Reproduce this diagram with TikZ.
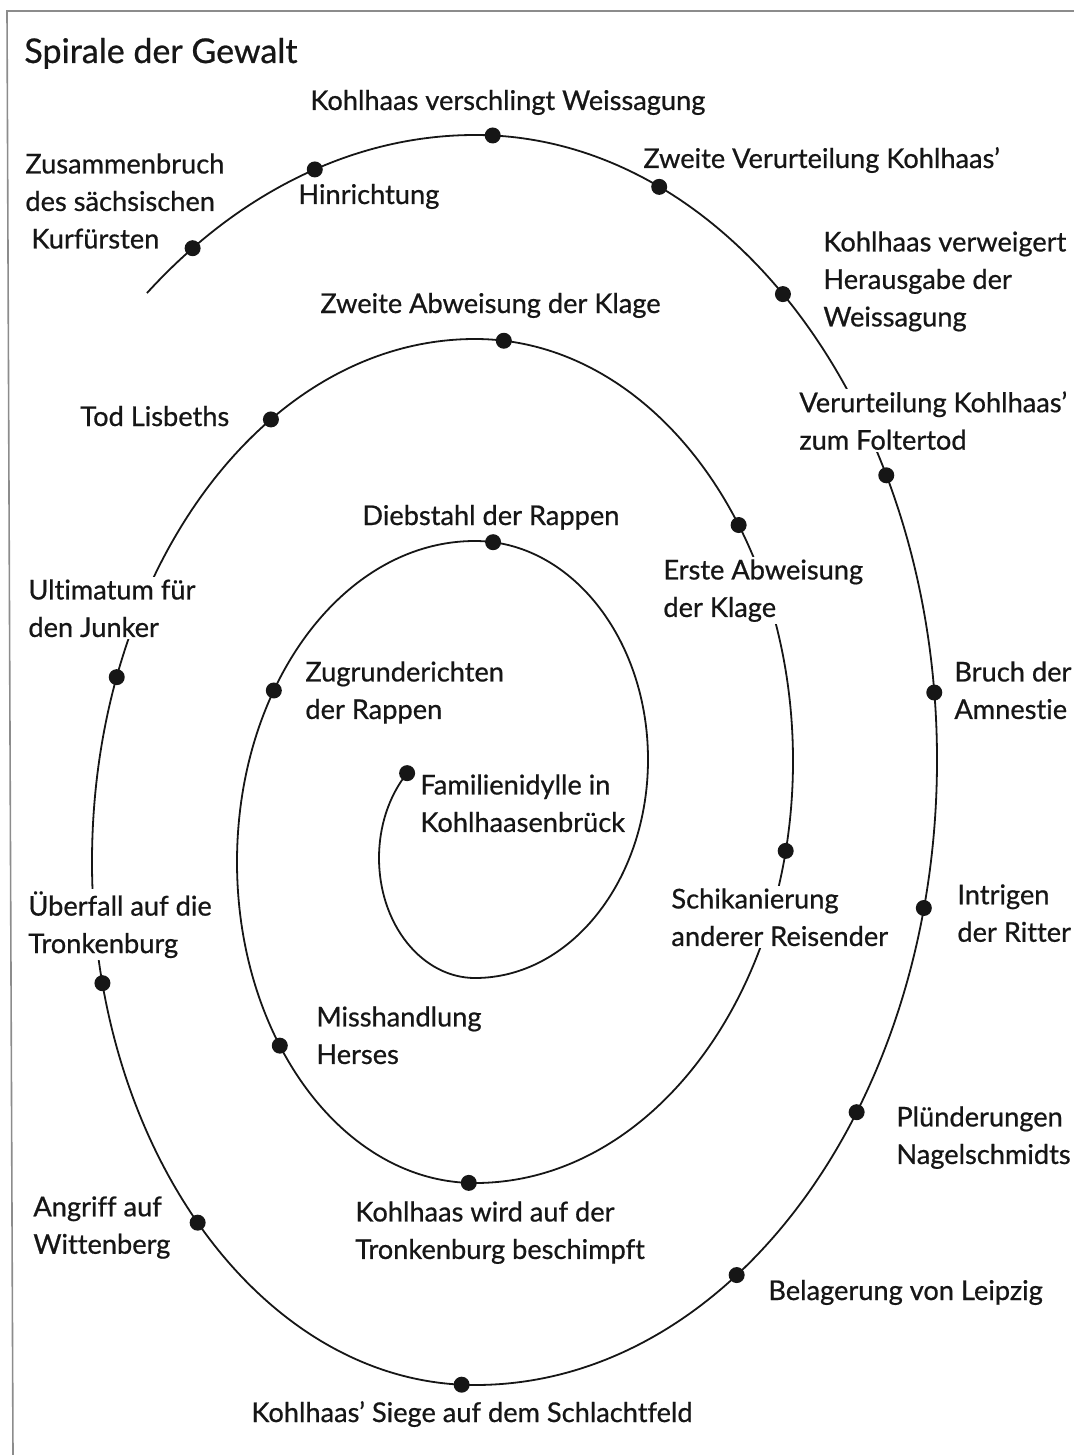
\documentclass[tikz,border=0pt]{standalone}
\usepackage{fontspec}
\setmainfont{Lato}[Ligatures={NoCommon},RawFeature={embolden=0.7}]
\usepackage{tikz}
\definecolor{Ink}{HTML}{161616}
\definecolor{Frame}{HTML}{8C8C8C}

\begin{document}
\begin{tikzpicture}[x=0.5pt,y=-0.5pt,
  every node/.style={align=left,inner sep=1pt,text=Ink,font=\fontsize{13.6}{18.75}\selectfont},
  lbl/.style={anchor=north west},
  one/.style={anchor=base west},
  gap/.style={fill=white},
  dot/.style={circle,fill=Ink,inner sep=0pt,minimum size=8pt}]
  \useasboundingbox (0,0) rectangle (1074,1455);
  % frame (top and left edge only)
  \coordinate (tl) at (7,11); \coordinate (tr) at (1074,11); \coordinate (bl) at (13,1455);
  \draw[Frame,line width=0.8pt] (tr) -- (tl) -- (bl);
  % centres of the half turns
  \coordinate (c1) at (475,858); \coordinate (c2) at (475,759.5); \coordinate (c3) at (475,862);
  \coordinate (c4) at (475,761); \coordinate (c5) at (475,862); \coordinate (c6) at (475,760);
  \coordinate (c7) at (475,862);
  % events on the spiral, from the centre outwards
  \path (c1) ++(225:96 and 120) coordinate (famil);
  \path (c2) ++(-84:173 and 218.5) coordinate (dieb);
  \path (c3) ++(212.3:238 and 321) coordinate (zug);
  \path (c3) ++(145.1:238 and 321) coordinate (miss);
  \path (c3) ++(91.5:238 and 321) coordinate (besch);
  \path (c4) ++(12.3:318 and 422) coordinate (schik);
  \path (c4) ++(-34:318 and 422) coordinate (erste);
  \path (c4) ++(-84.8:318 and 422) coordinate (zabw);
  \path (c5) ++(237.8:383 and 523) coordinate (tod);
  \path (c5) ++(200.7:383 and 523) coordinate (ult);
  \path (c5) ++(166.6:383 and 523) coordinate (ueber);
  \path (c5) ++(136.4:383 and 523) coordinate (angr);
  \path (c5) ++(92:383 and 523) coordinate (siege);
  \path (c6) ++(55.5:462 and 625) coordinate (bel);
  \path (c6) ++(34.3:462 and 625) coordinate (plue);
  \path (c6) ++(13.7:462 and 625) coordinate (intr);
  \path (c6) ++(-6.2:462 and 625) coordinate (bruch);
  \path (c6) ++(-27.1:462 and 625) coordinate (folt);
  \path (c6) ++(-48.2:462 and 625) coordinate (verw);
  \path (c6) ++(-66.5:462 and 625) coordinate (zver);
  \path (c6) ++(-87.8:462 and 625) coordinate (versch);
  \path (c7) ++(252.3:527 and 727) coordinate (hinr);
  \path (c7) ++(237.6:527 and 727) coordinate (zus);
  % the spiral, one half turn per arc
  \draw[Ink,line width=0.9pt] (famil)
    arc[start angle=225,end angle=90,x radius=96,y radius=120]
    arc[start angle=90,end angle=-90,x radius=173,y radius=218.5]
    arc[start angle=270,end angle=90,x radius=238,y radius=321]
    arc[start angle=90,end angle=-90,x radius=318,y radius=422]
    arc[start angle=270,end angle=90,x radius=383,y radius=523]
    arc[start angle=90,end angle=-90,x radius=462,y radius=625]
    arc[start angle=270,end angle=231.5,x radius=527,y radius=727] coordinate (spend);
  % labels
  \node[one,font=\fontsize{17}{20}\selectfont] (title) at (22,63) {Spirale der Gewalt};
  \node[one] (t-versch) at (308,110) {Kohlhaas verschlingt Weissagung};
  \node[lbl] (t-zus) at (23,151) {Zusammenbruch\\des sächsischen\\\hspace*{3pt}Kurfürsten};
  \node[one] (t-hinr) at (296,204) {Hinrichtung};
  \node[one] (t-zver) at (641,168) {Zweite Verurteilung Kohlhaas’};
  \node[lbl] (t-verw) at (821,229) {Kohlhaas verweigert\\Herausgabe der\\Weissagung};
  \node[one] (t-zabw) at (318,313) {Zweite Abweisung der Klage};
  \node[one] (t-tod) at (78,426) {Tod Lisbeths};
  \node[lbl,gap] (t-folt) at (797,389) {Verurteilung Kohlhaas’\\zum Foltertod};
  \node[one] (t-dieb) at (360,525) {Diebstahl der Rappen};
  \node[lbl,gap] (t-erste) at (661,557) {Erste Abweisung\\der Klage};
  \node[lbl,gap] (t-ult) at (26,577) {Ultimatum für\\den Junker};
  \node[lbl] (t-zug) at (303,659) {Zugrunderichten\\der Rappen};
  \node[lbl] (t-bruch) at (952,659) {Bruch der\\Amnestie};
  \node[lbl] (t-famil) at (418,772) {Familienidylle in\\Kohlhaasenbrück};
  \node[lbl,gap] (t-schik) at (669,886) {Schikanierung\\anderer Reisender};
  \node[lbl] (t-intr) at (955,882) {Intrigen\\der Ritter};
  \node[lbl,gap] (t-ueber) at (26,889) {Überfall auf die\\Tronkenburg};
  \node[lbl] (t-miss) at (314,1004) {Misshandlung\\Herses};
  \node[lbl] (t-plue) at (894,1104) {Plünderungen\\Nagelschmidts};
  \node[lbl] (t-angr) at (31,1194) {Angriff auf\\Wittenberg};
  \node[lbl] (t-besch) at (353,1199) {Kohlhaas wird auf der\\Tronkenburg beschimpft};
  \node[one] (t-bel) at (766,1300) {Belagerung von Leipzig};
  \node[one] (t-siege) at (249,1422) {Kohlhaas’ Siege auf dem Schlachtfeld};
  % dots on top
  \foreach \p in {famil,dieb,zug,miss,besch,schik,erste,zabw,tod,ult,ueber,angr,
    siege,bel,plue,intr,bruch,folt,verw,zver,versch,hinr,zus}
    \node[dot] (d-\p) at (\p) {};
\end{tikzpicture}
\end{document}
